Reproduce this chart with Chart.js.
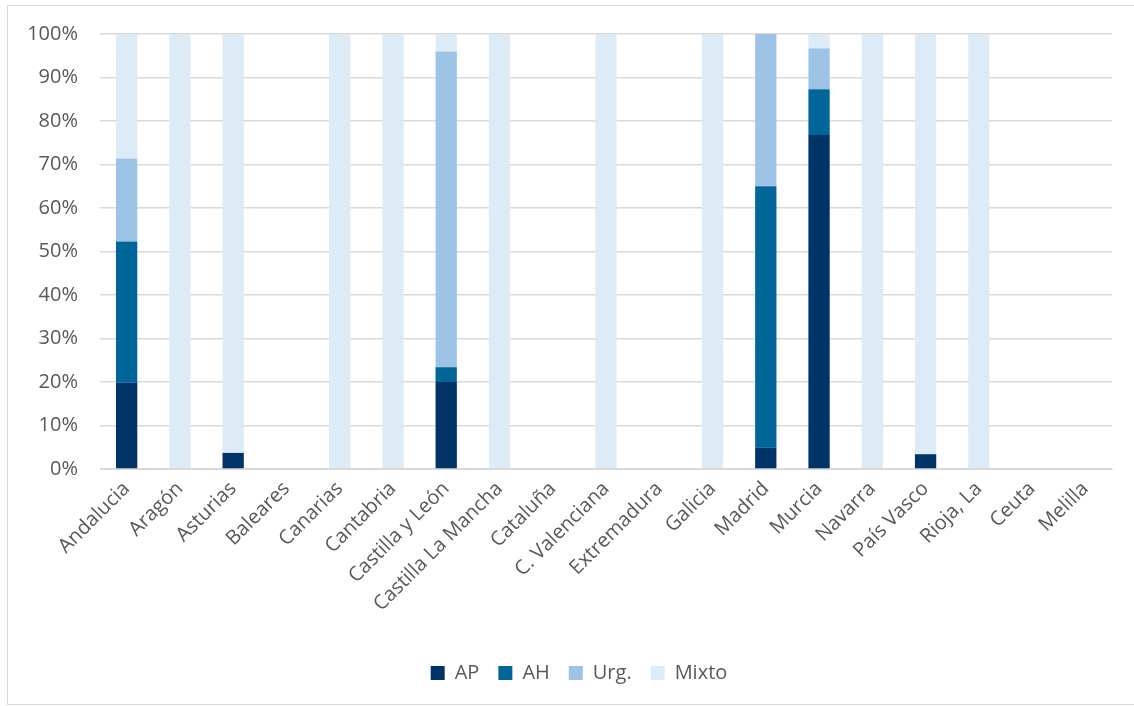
<!DOCTYPE html>
<html>
<head>
<meta charset="utf-8">
<script src="https://cdn.jsdelivr.net/npm/chart.js@4"></script>
<style>
  html, body { margin: 0; padding: 0; background: #fff; }
  #wrap { position: relative; width: 1134px; height: 706px; }
  #frame { position: absolute; left: 7px; top: 5px; width: 1140px; height: 698px; border: 1px solid #d9d9d9; }
  canvas { position: absolute; left: 0; top: 0; }
</style>
</head>
<body>
<div id="wrap">
  <div id="frame"></div>
  <canvas id="stackChart" width="1134" height="706"></canvas>
</div>
<script>
const regions = ['Andalucia', 'Aragón', 'Asturias', 'Baleares', 'Canarias', 'Cantabria', 'Castilla y León',
    'Castilla La Mancha', 'Cataluña', 'C. Valenciana', 'Extremadura', 'Galicia', 'Madrid', 'Murcia',
    'Navarra', 'País Vasco', 'Rioja, La', 'Ceuta', 'Melilla'];

// porcentajes
const apValues    = [19.8, 0, 3.7, 0, 0, 0, 20.0, 0, 0, 0, 0, 0, 4.9, 76.8, 0, 3.4, 0, 0, 0];
const ahValues    = [32.5, 0, 0, 0, 0, 0, 3.4, 0, 0, 0, 0, 0, 60.1, 10.5, 0, 0, 0, 0, 0];
const urgValues   = [19.1, 0, 0, 0, 0, 0, 72.6, 0, 0, 0, 0, 0, 35.0, 9.4, 0, 0, 0, 0, 0];
const mixtoValues = [28.6, 100, 96.3, 0, 100, 100, 4.0, 100, 0, 100, 0, 100, 0, 3.3, 100, 96.6, 100, 0, 0];

const yTicks = [0, 10, 20, 30, 40, 50, 60, 70, 80, 90, 100];

const textColor = '#595959';
const gridColor = '#d9d9d9';
const font = { family: "'Open Sans', sans-serif", size: 20 };

function series(label, data, color) {
    return {
        label: label,
        data: data,
        backgroundColor: color,
        borderWidth: 0,
        barPercentage: 0.4,
        categoryPercentage: 1.0
    };
}

// desplaza la leyenda a la derecha, como en el original
const legendShift = {
    id: 'legendShift',
    afterLayout(chart) {
        chart.legend.left += 23;
        chart.legend.right += 23;
    }
};

const ctx = document.getElementById('stackChart').getContext('2d');

new Chart(ctx, {
    type: 'bar',
    data: {
        labels: regions,
        datasets: [
            series('AP', apValues, '#003366'),
            series('AH', ahValues, '#006699'),
            series('Urg.', urgValues, '#9dc3e6'),
            series('Mixto', mixtoValues, '#ddebf7')
        ]
    },
    plugins: [legendShift],
    options: {
        responsive: false,
        animation: false,
        layout: { padding: { left: 0, right: 22, top: 34, bottom: 13 } },
        plugins: {
            tooltip: { enabled: false },
            legend: {
                position: 'bottom',
                labels: {
                    color: textColor,
                    font: font,
                    boxWidth: 14,
                    boxHeight: 14,
                    padding: 19
                }
            }
        },
        scales: {
            x: {
                stacked: true,
                grid: { display: false, drawTicks: false },
                border: { color: gridColor, width: 1 },
                ticks: {
                    color: textColor,
                    font: font,
                    minRotation: 45,
                    maxRotation: 45,
                    autoSkip: false,
                    padding: 8
                },
                afterFit: scale => { scale.height = 175; }
            },
            y: {
                stacked: true,
                min: 0,
                max: 100,
                grid: { color: gridColor, lineWidth: 1.5, drawTicks: false },
                border: { display: false },
                afterBuildTicks: scale => { scale.ticks = yTicks.map(v => ({ value: v })); },
                ticks: {
                    color: textColor,
                    font: font,
                    padding: 22,
                    callback: v => v + '%'
                },
                afterFit: scale => { scale.width = 100; }
            }
        }
    }
});
</script>
</body>
</html>
